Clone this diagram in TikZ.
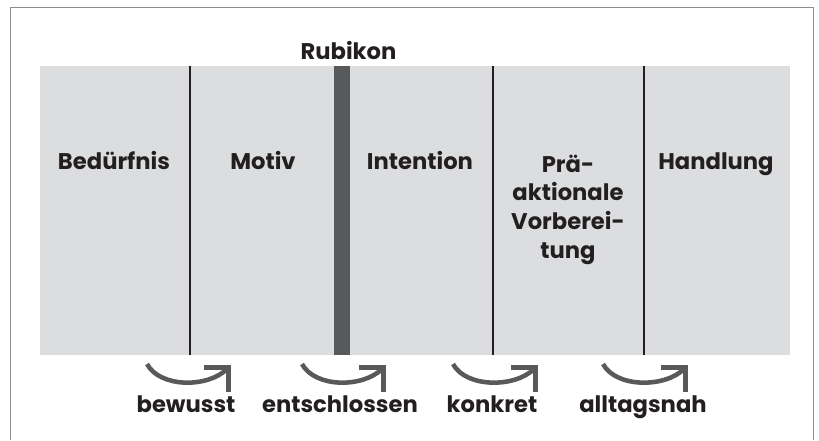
\documentclass[tikz,border=0pt]{standalone}
\usepackage{fontspec}
\setmainfont{Poppins}
\usetikzlibrary{arrows.meta}

\definecolor{bandgray}{HTML}{DCDDDF}
\definecolor{rubigray}{HTML}{58595B}
\definecolor{inkblack}{HTML}{231F20}
\definecolor{framegray}{HTML}{8C8C8C}

\begin{document}
\begin{tikzpicture}[x=0.75pt,y=0.75pt,
  phase/.style={font=\bfseries\fontsize{17}{21.4}\selectfont,text=inkblack,align=center,anchor=base,inner sep=0pt},
  step label/.style={phase},
  divider/.style={draw=inkblack,line width=1.6pt},
  swing/.style={draw=rubigray,line width=3.4pt,
    -{Straight Barb[sharp,length=13pt,width=26pt]},
    to path={.. controls +(13,-24) and +(-23,-23) .. (\tikztotarget)}}]
  \useasboundingbox (0,0) rectangle (819,-440);
  % frame, open at the bottom
  \draw[framegray,line width=1pt] (10.5,-440) -- (10.5,-7.5) -- (813.5,-7.5) -- (813.5,-440);
  % band with the phases
  \fill[bandgray] (40,-66) rectangle (790,-355);
  \fill[rubigray] (334,-66) rectangle (350,-355);
  \draw[divider] (190,-66) -- (190,-355);
  \draw[divider] (493,-66) -- (493,-355);
  \draw[divider] (644,-66) -- (644,-355);

  \node[phase] (rubikon) at (348.5,-59) {Rubikon};
  \node[phase] (beduerfnis) at (114,-169) {Bedürfnis};
  \node[phase] (motiv) at (263,-169) {Motiv};
  \node[phase] (intention) at (420,-169) {Intention};
  \node[phase] (vorbereitung) at (568,-258) {Prä-\\aktionale\\Vorberei-\\tung};
  \node[phase] (handlung) at (716,-169) {Handlung};

  \coordinate (s1) at (147,-364);
  \coordinate (t1) at (231,-365);
  \coordinate (s2) at (302,-364);
  \coordinate (t2) at (386,-365);
  \coordinate (s3) at (453,-364);
  \coordinate (t3) at (538,-365);
  \coordinate (s4) at (603,-364);
  \coordinate (t4) at (688,-365);
  \path
    (s1) edge[swing] (t1)
    (s2) edge[swing] (t2)
    (s3) edge[swing] (t3)
    (s4) edge[swing] (t4);

  \node[step label] (bewusst) at (186,-412) {bewusst};
  \node[step label] (entschlossen) at (340,-412) {entschlossen};
  \node[step label] (konkret) at (492,-412) {konkret};
  \node[step label] (alltagsnah) at (643,-412) {alltagsnah};
\end{tikzpicture}
\end{document}
